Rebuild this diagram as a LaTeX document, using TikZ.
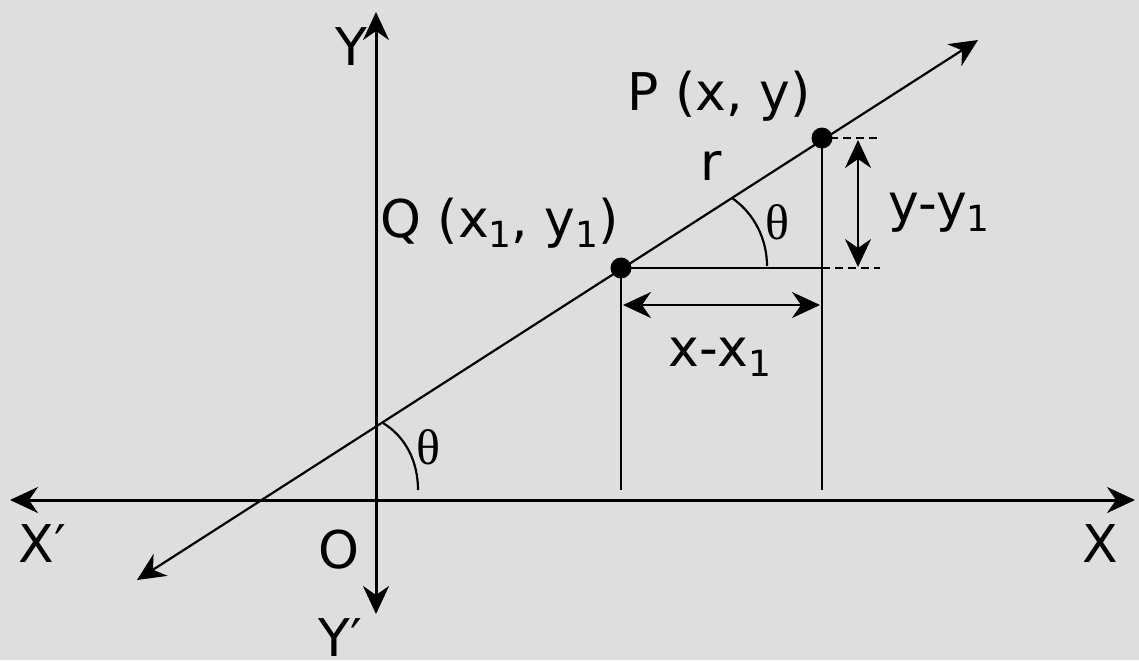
\documentclass[tikz,border=0pt]{standalone}
\usepackage{fontspec}
\setmainfont{DejaVu Sans}
\newfontfamily\thetafont{Liberation Serif}
\usetikzlibrary{arrows.meta}
\newcommand{\lowidx}[1]{\raisebox{-5pt}{\fontsize{18}{20}\selectfont #1}}
\tikzset{
  bigtip/.tip={Stealth[length=14pt,width=13pt,inset=4.5pt]},
  axisline/.style={line width=1.5pt, bigtip-bigtip},
  slantline/.style={line width=1.1pt, bigtip-bigtip},
  dimarrow/.style={line width=1.1pt, bigtip-bigtip},
  thinline/.style={line width=1.1pt},
  guide/.style={line width=0.8pt, dash pattern=on 4pt off 2.5pt},
  pointdot/.style={circle, fill=black, minimum size=10.5pt, inner sep=0pt},
  lbl/.style={font=\fontsize{26}{30}\selectfont, inner sep=0pt, anchor=base west},
  anglbl/.style={font=\thetafont\fontsize{25}{30}\selectfont, inner sep=0pt}
}
\begin{document}
\begin{tikzpicture}[x=0.5pt, y=-0.5pt]
\useasboundingbox[fill=black!13] (0,0) rectangle (1139,660);
% axes
\coordinate (xneg) at (10,500);
\coordinate (xpos) at (1135,500);
\coordinate (ypos) at (376,12);
\coordinate (yneg) at (376,614);
\draw[axisline] (xneg) -- (xpos);
\draw[axisline] (yneg) -- (ypos);
% the line through Q and P
\coordinate (lowend) at (137,580);
\coordinate (highend) at (978,40);
\draw[slantline] (lowend) -- (highend);
\node[pointdot] (q) at (621,268) {};
\node[pointdot] (p) at (822,138) {};
% drops and the level line
\coordinate (qfoot) at (621,490);
\coordinate (pfoot) at (822,490);
\coordinate (corner) at (822,268);
\draw[thinline] (q.center) -- (qfoot);
\draw[thinline] (p.center) -- (pfoot);
\draw[thinline] (q.center) -- (corner);
\coordinate (guidelow) at (880,268);
\coordinate (guidehigh) at (880,138);
\coordinate (guidestart) at (830,138);
\draw[guide] (corner) -- (guidelow);
\draw[guide] (guidestart) -- (guidehigh);
% dimensions
\coordinate (dimtop) at (858,140);
\coordinate (dimbot) at (858,267);
\draw[dimarrow] (dimtop) -- (dimbot);
\coordinate (dimleft) at (623,305);
\coordinate (dimright) at (820,305);
\draw[dimarrow] (dimleft) -- (dimright);
% angle marks
\coordinate (arcastart) at (732,198);
\coordinate (arcaend) at (767,266);
\draw[thinline] (arcastart) .. controls (755,214) and (767,240) .. (arcaend);
\coordinate (arcbstart) at (383,423);
\coordinate (arcbend) at (418,490);
\draw[thinline] (arcbstart) .. controls (406,437) and (418,462) .. (arcbend);
% labels
\node[lbl] (ylbl) at (335,65) {Y};
\node[lbl, text depth=0pt] (yneglbl) at (318,656) {Y′};
\node[lbl] (xneglbl) at (18,562) {X′};
\node[lbl] (xlbl) at (1082,562) {X};
\node[lbl] (olbl) at (318,568) {O};
\node[lbl] (plbl) at (627,110) {P (x, y)};
\node[lbl] (qlbl) at (380,237) {Q (x\lowidx{1}, y\lowidx{1})};
\node[lbl] (dylbl) at (888,221) {y-y\lowidx{1}};
\node[lbl] (dxlbl) at (668,366) {x-x\lowidx{1}};
\node[lbl] (rlbl) at (700,180) {r};
\node[anglbl] (thetaup) at (777,222) {θ};
\node[anglbl] (thetalow) at (428,447) {θ};
\end{tikzpicture}
\end{document}
